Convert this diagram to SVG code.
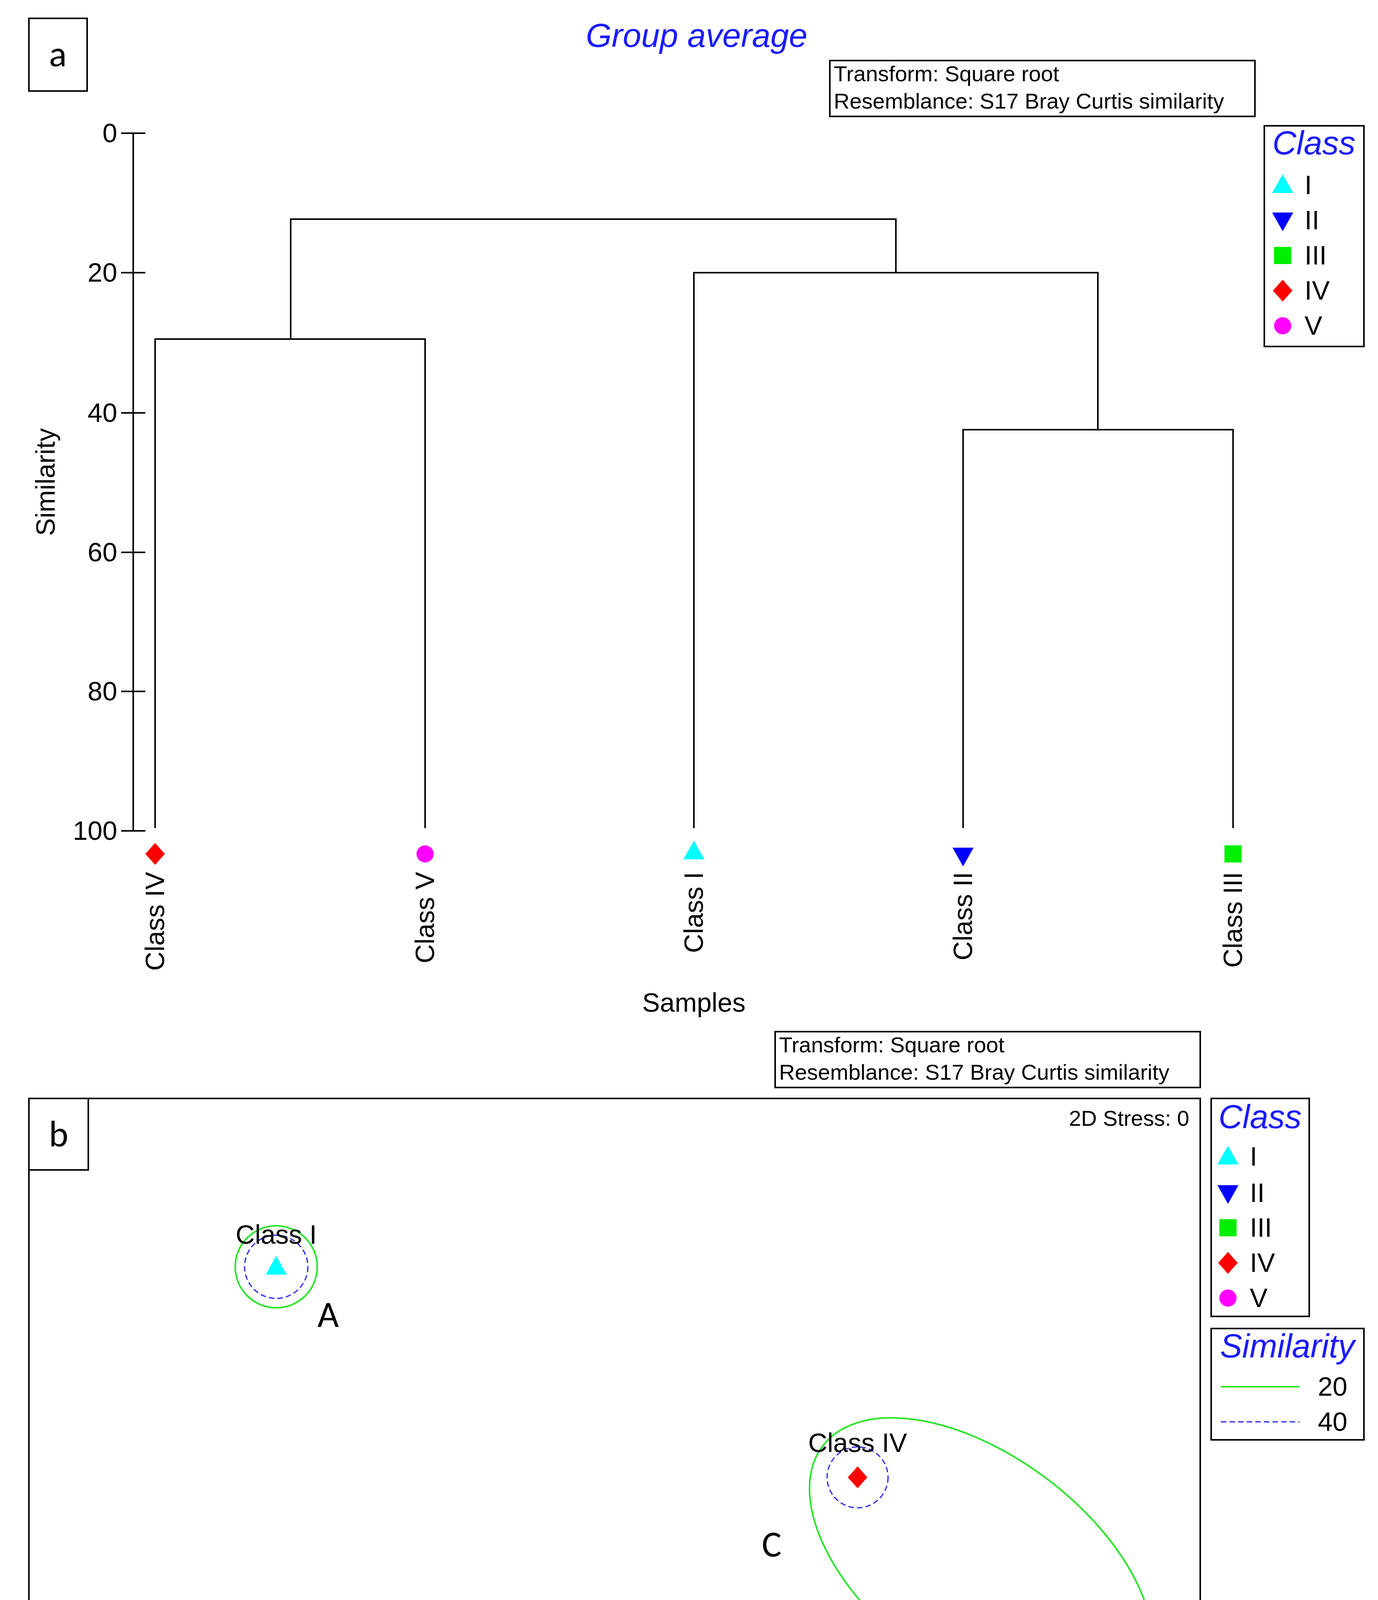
<svg xmlns="http://www.w3.org/2000/svg" width="3527" height="4873" viewBox="0 0 3527 4873">
<style>
text{font-family:"Liberation Sans",Arial,sans-serif;fill:#000}
.ln{stroke:#000;stroke-width:4;fill:none}
.box{stroke:#000;stroke-width:4;fill:#fff}
.ttl{fill:#1a1aff;font-style:italic}
.sm{font-size:56px}
.md{font-size:68px}
.g{stroke:#22e622;stroke-width:4;fill:none}
.b{stroke:#2222ee;stroke-width:3;fill:none;stroke-dasharray:14 8}
.lab{font-family:Carlito,"Liberation Sans",sans-serif;font-size:95px}
</style>
<defs>
<path id="tu" d="M0,-28 L27,20 L-27,20Z" fill="#00ffff"/>
<path id="td" d="M0,28 L27,-20 L-27,-20Z" fill="#0000ff"/>
<rect id="sq" x="-22" y="-22" width="44" height="44" fill="#00ee00"/>
<path id="di" d="M0,-28 L25,0 L0,28 L-25,0Z" fill="#ff0000"/>
<circle id="ci" r="22" fill="#ff00ff"/>
</defs>
<g id="panel-a">
<rect class="box" x="74" y="47" width="149" height="186"/>
<text x="148" y="170" text-anchor="middle" class="lab">a</text>
<text x="1783" y="120" text-anchor="middle" class="ttl" font-size="85">Group average</text>
<rect class="box" x="2124" y="155" width="1088" height="143"/>
<text x="2134" y="208" class="sm">Transform: Square root</text>
<text x="2134" y="278" class="sm">Resemblance: S17 Bray Curtis similarity</text>
<g id="axis">
<path class="ln" d="M341,341V2127M310,341H372M310,698H372M310,1057H372M310,1414H372M310,1770H372M310,2127H372"/>
<g class="md" text-anchor="end">
<text x="300" y="364">0</text><text x="300" y="721">20</text><text x="300" y="1080">40</text>
<text x="300" y="1437">60</text><text x="300" y="1793">80</text><text x="300" y="2150">100</text>
</g>
<text transform="translate(140,1234) rotate(-90)" text-anchor="middle" class="md">Similarity</text>
</g>
<g id="connectors">
<path class="ln" d="M397,2120V868H1088V2120M744,868V561H2293V698M1776,2120V698H2810V1100M2465,2120V1100H3156V2120"/>
</g>
<g id="leaves">
<use href="#di" x="397" y="2186"/><use href="#ci" x="1088" y="2186"/><use href="#tu" x="1776" y="2180"/>
<use href="#td" x="2465" y="2190"/><use href="#sq" x="3156" y="2186"/>
<g class="md" text-anchor="end">
<text transform="translate(420,2232) rotate(-90)">Class IV</text>
<text transform="translate(1111,2232) rotate(-90)">Class V</text>
<text transform="translate(1799,2232) rotate(-90)">Class I</text>
<text transform="translate(2488,2232) rotate(-90)">Class II</text>
<text transform="translate(3179,2232) rotate(-90)">Class III</text>
</g>
</g>
<text x="1776" y="2590" text-anchor="middle" class="md">Samples</text>
<g id="legend-a">
<rect class="box" x="3236" y="322" width="255" height="565"/>
<text x="3363" y="395" text-anchor="middle" class="ttl" font-size="85">Class</text>
<use href="#tu" x="3283" y="474"/><use href="#td" x="3283" y="564"/><use href="#sq" x="3283" y="654"/><use href="#di" x="3283" y="744"/><use href="#ci" x="3283" y="834"/>
<g class="md"><text x="3339" y="497">I</text><text x="3339" y="587">II</text><text x="3339" y="677">III</text><text x="3339" y="767">IV</text><text x="3339" y="857">V</text></g>
</g>
</g>
<g id="panel-b">
<rect class="box" x="1984" y="2641" width="1088" height="143"/>
<text x="1994" y="2694" class="sm">Transform: Square root</text>
<text x="1994" y="2764" class="sm">Resemblance: S17 Bray Curtis similarity</text>
<rect class="ln" x="74" y="2812" width="2998" height="1993"/>
<rect class="box" x="74" y="2812" width="152" height="183"/>
<text x="150" y="2935" text-anchor="middle" class="lab">b</text>
<text x="3044" y="2882" text-anchor="end" class="sm">2D Stress: 0</text>
<g id="clusters">
<circle class="g" cx="707" cy="3243" r="105"/><circle class="b" cx="707" cy="3243" r="81"/>
<ellipse class="g" cx="450" cy="4356" rx="233" ry="195"/><ellipse class="b" cx="450" cy="4356" rx="202" ry="161"/>
<circle class="b" cx="2195" cy="3782" r="78"/><circle class="b" cx="2821" cy="4232" r="78"/>
<ellipse class="g" cx="2511" cy="4008" rx="508" ry="279" transform="rotate(37 2511 4008)"/>
</g>
<g id="points">
<use href="#tu" x="707" y="3243"/><use href="#td" x="322" y="4371"/><use href="#sq" x="577" y="4346"/>
<use href="#di" x="2195" y="3782"/><use href="#ci" x="2821" y="4232"/>
<g class="md" text-anchor="middle">
<text x="707" y="3184">Class I</text><text x="322" y="4306">Class II</text><text x="577" y="4281">Class III</text>
<text x="2195" y="3717">Class IV</text><text x="2821" y="4170">Class V</text>
</g>
</g>
<text x="840" y="3397" text-anchor="middle" class="lab">A</text>
<text x="679" y="4175" text-anchor="middle" class="lab">B</text>
<text x="1975" y="3985" text-anchor="middle" class="lab">C</text>
<g id="legend-b">
<rect class="box" x="3100" y="2812" width="251" height="558"/>
<text x="3225" y="2888" text-anchor="middle" class="ttl" font-size="85">Class</text>
<use href="#tu" x="3143" y="2961"/><use href="#td" x="3143" y="3054"/><use href="#sq" x="3143" y="3143"/><use href="#di" x="3143" y="3233"/><use href="#ci" x="3143" y="3323"/>
<g class="md"><text x="3199" y="2984">I</text><text x="3199" y="3077">II</text><text x="3199" y="3166">III</text><text x="3199" y="3256">IV</text><text x="3199" y="3346">V</text></g>
</g>
<g id="legend-sim">
<rect class="box" x="3100" y="3401" width="391" height="285"/>
<text x="3295" y="3475" text-anchor="middle" class="ttl" font-size="85">Similarity</text>
<path class="g" d="M3125,3550H3326"/><path class="b" d="M3125,3640H3326"/>
<g class="md"><text x="3373" y="3573">20</text><text x="3373" y="3663">40</text></g>
</g>
</g>
</svg>
